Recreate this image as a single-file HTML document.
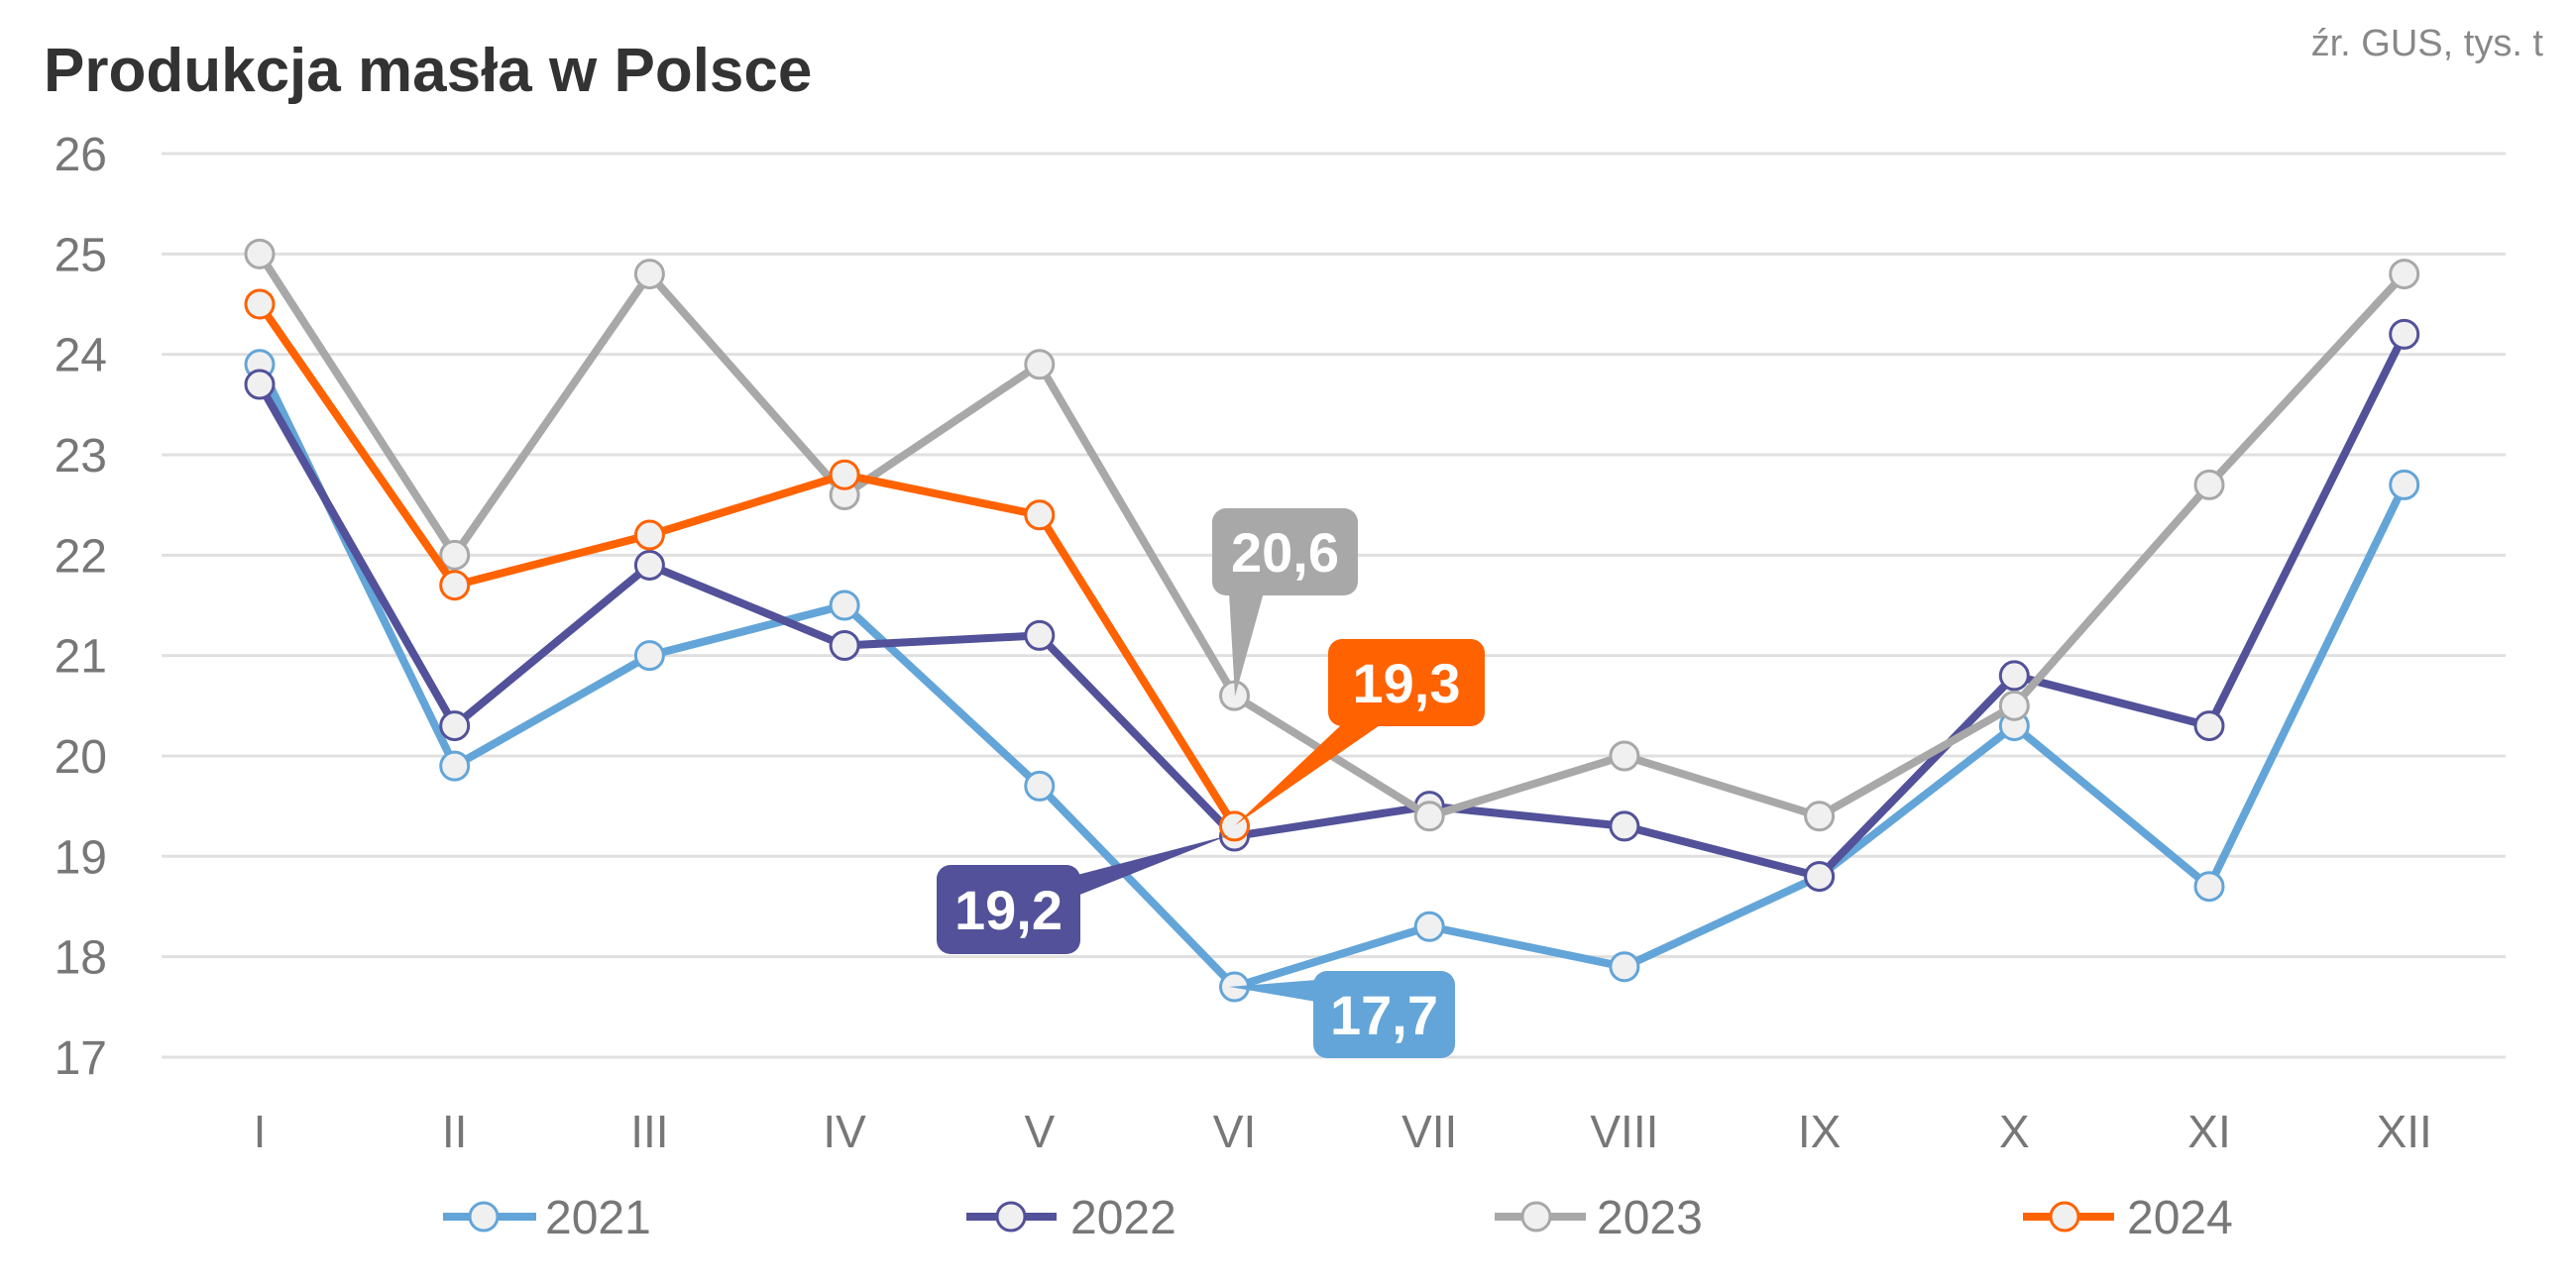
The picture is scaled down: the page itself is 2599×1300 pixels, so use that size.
<!DOCTYPE html>
<html><head><meta charset="utf-8"><style>
html,body{margin:0;padding:0;background:#fff;}
svg{display:block;font-family:"Liberation Sans",sans-serif;}
</style></head><body>
<svg id="s" width="2599" height="1300" viewBox="0 0 2599 1300" xmlns="http://www.w3.org/2000/svg">
<text x="44" y="92" font-size="62" font-weight="bold" fill="#333">Produkcja masła w Polsce</text>
<text x="2566" y="56" font-size="38" fill="#888" text-anchor="end">źr. GUS, tys. t</text>
<g id="grid"></g>
<g id="series"></g>
<g id="labels"></g>
</svg>
<script>
const NS="http://www.w3.org/2000/svg";
const s=document.getElementById('s');
function el(t,a,p,txt){const e=document.createElementNS(NS,t);for(const k in a)e.setAttribute(k,a[k]);if(txt!=null)e.textContent=txt;(p||s).appendChild(e);return e;}
const Y=v=>155+(26-v)*101.33, X=i=>262+i*196.7;
const g=document.getElementById('grid');
for(let v=17;v<=26;v++){el('line',{x1:163,x2:2528,y1:Y(v),y2:Y(v),stroke:'#e0e0e0','stroke-width':3},g);
el('text',{x:108,y:Y(v)+17,'font-size':48,fill:'#777','text-anchor':'end'},g,v);}
const mon=['I','II','III','IV','V','VI','VII','VIII','IX','X','XI','XII'];
mon.forEach((m,i)=>el('text',{x:X(i),y:1158,'font-size':46,fill:'#777','text-anchor':'middle'},g,m));
const data=[
['#63a5d8',[23.9,19.9,21.0,21.5,19.7,17.7,18.3,17.9,18.8,20.3,18.7,22.7]],
['#525199',[23.7,20.3,21.9,21.1,21.2,19.2,19.5,19.3,18.8,20.8,20.3,24.2]],
['#a8a8a8',[25.0,22.0,24.8,22.6,23.9,20.6,19.4,20.0,19.4,20.5,22.7,24.8]],
['#ff6200',[24.5,21.7,22.2,22.8,22.4,19.3]]];
const sg=document.getElementById('series');
data.forEach(([c,d])=>{el('polyline',{points:d.map((v,i)=>X(i)+','+Y(v)).join(' '),fill:'none',stroke:c,'stroke-width':8,'stroke-linejoin':'round'},sg);
d.forEach((v,i)=>el('circle',{cx:X(i),cy:Y(v),r:14,fill:'#f0f0f0',stroke:c,'stroke-width':3},sg));});
const leg=[[447,541,488,550,'2021'],[975,1066,1020,1080,'2022'],[1508,1600,1550,1611,'2023'],[2041,2133,2083,2146,'2024']];
leg.forEach((l,k)=>{const c=data[k][0];el('line',{x1:l[0],x2:l[1],y1:1228,y2:1228,stroke:c,'stroke-width':8},sg);
el('circle',{cx:l[2],cy:1228,r:14,fill:'#f0f0f0',stroke:c,'stroke-width':3},sg);
el('text',{x:l[3],y:1245,'font-size':48,fill:'#777'},sg,l[4]);});
const lb=document.getElementById('labels');
function call(c,x1,y1,x2,y2,poly,t){el('polygon',{points:poly,fill:c},lb);
el('rect',{x:x1,y:y1,width:x2-x1,height:y2-y1,rx:14,fill:c},lb);
el('text',{x:(x1+x2)/2,y:(y1+y2)/2+20,'font-size':56,'font-weight':'bold',fill:'#fff','text-anchor':'middle'},lb,t);}
call('#a8a8a8',1223,513,1370,601,'1240,598 1275,598 1246,703','20,6');
call('#ff6200',1340,645,1498,733,'1355,730 1395,730 1246,833','19,3');
call('#525199',945,873,1090,963,'1087,883 1087,904 1240,843','19,2');
call('#63a5d8',1325,980,1468,1068,'1328,989 1328,1011 1240,996','17,7');
</script>
</body></html>
